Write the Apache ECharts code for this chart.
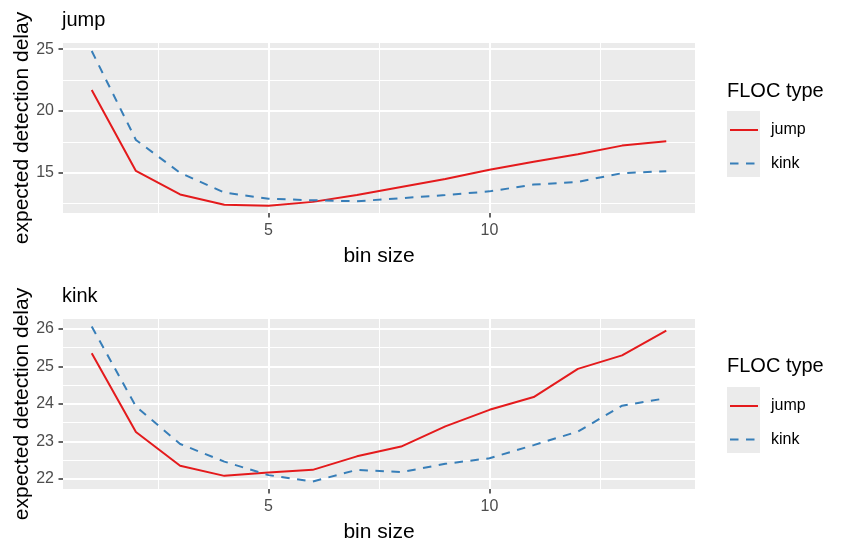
<!DOCTYPE html>
<html>
<head>
<meta charset="utf-8">
<script src="https://cdn.jsdelivr.net/npm/echarts@6/dist/echarts.min.js"></script>
<style>
  html, body { margin: 0; padding: 0; background: #fff; }
  #chart { width: 847px; height: 551px; }
</style>
</head>
<body>
<div id="chart"></div>
<script>
// data
let binSize = [1, 2, 3, 4, 5, 6, 7, 8, 9, 10, 11, 12, 13, 14];
// panel "jump"
let jumpPanelJump = [21.7, 15.15, 13.25, 12.42, 12.34, 12.65, 13.2, 13.85, 14.5, 15.25, 15.9, 16.5, 17.2, 17.55];
let jumpPanelKink = [24.85, 17.66, 15.0, 13.4, 12.9, 12.78, 12.7, 12.95, 13.2, 13.5, 14.05, 14.27, 14.97, 15.13];
// panel "kink"
let kinkPanelJump = [25.35, 23.25, 22.35, 22.08, 22.17, 22.24, 22.6, 22.86, 23.4, 23.84, 24.18, 24.93, 25.29, 25.95];
let kinkPanelKink = [26.06, 23.93, 22.93, 22.46, 22.1, 21.93, 22.24, 22.18, 22.4, 22.55, 22.9, 23.26, 23.95, 24.15];

let xTicks = [5, 10];
let xMinor = [2.5, 7.5, 12.5];
let jumpYTicks = [15, 20, 25];
let jumpYMinor = [12.5, 17.5, 22.5];
let kinkYTicks = [22, 23, 24, 25, 26];
let kinkYMinor = [22.5, 23.5, 24.5, 25.5];

let panelTitles = ['jump', 'kink'];
let seriesNames = ['jump', 'kink'];
let yTitle = 'expected detection delay';

const FONT = '"Liberation Sans", Arial, Helvetica, sans-serif';
const RED = '#E41A1C';
const BLUE = '#377EB8';

let chart = echarts.init(document.getElementById('chart'));

let pairs = (arr) => binSize.map((x, i) => [x, arr[i]]);

// white grid lines as mark lines on a hidden series, kept under the data
let gridSeries = function (idx, yMajor, yMinor) {
  let data = [];
  xMinor.forEach(v => data.push({xAxis: v, lineStyle: {width: 1}}));
  xTicks.forEach(v => data.push({xAxis: v, lineStyle: {width: 2}}));
  yMinor.forEach(v => data.push({yAxis: v, lineStyle: {width: 1}}));
  yMajor.forEach(v => data.push({yAxis: v, lineStyle: {width: 2}}));
  return {
    type: 'line',
    xAxisIndex: idx,
    yAxisIndex: idx,
    data: [],
    z: 1,
    silent: true,
    markLine: {
      z: 1,
      silent: true,
      animation: false,
      symbol: ['none', 'none'],
      label: {show: false},
      lineStyle: {color: '#ffffff', type: 'solid'},
      data: data
    }
  };
};

let dataSeries = function (idx, name, values, color, dashed) {
  return {
    name: name,
    type: 'line',
    xAxisIndex: idx,
    yAxisIndex: idx,
    data: pairs(values),
    symbol: 'none',
    z: 10,
    lineStyle: {color: color, width: 2, type: dashed ? [8.5, 7.5] : 'solid'},
    itemStyle: {color: color}
  };
};

let xAxis = function (idx) {
  return {
    type: 'value',
    gridIndex: idx,
    min: 0.35,
    max: 14.65,
    name: 'bin size',
    nameLocation: 'middle',
    nameGap: 33,
    nameTextStyle: {color: '#000', fontSize: 21, fontFamily: FONT},
    axisLine: {show: false},
    axisTick: {show: true, customValues: xTicks, length: 4.5, lineStyle: {color: '#333', width: 1.5}},
    axisLabel: {customValues: xTicks, color: '#4D4D4D', fontSize: 16, fontFamily: FONT, margin: 10},
    splitLine: {show: false}
  };
};

let yAxis = function (idx, min, max, ticks) {
  return {
    type: 'value',
    gridIndex: idx,
    min: min,
    max: max,
    axisLine: {show: false},
    axisTick: {show: true, customValues: ticks, length: 4.5, lineStyle: {color: '#333', width: 1.5}},
    axisLabel: {customValues: ticks, color: '#4D4D4D', fontSize: 16, fontFamily: FONT, margin: 9},
    splitLine: {show: false}
  };
};

let legend = function (top) {
  return {
    data: seriesNames,
    orient: 'vertical',
    left: 729,
    top: top,
    padding: 0,
    itemWidth: 28,
    itemHeight: 14,
    itemGap: 17.4,
    selectedMode: false,
    itemStyle: {opacity: 0},
    textStyle: {color: '#000', fontSize: 16, fontFamily: FONT, padding: [0, 0, 0, 8]}
  };
};

let textTitle = function (text, left, top) {
  return {
    text: text,
    left: left,
    top: top,
    padding: 0,
    textStyle: {color: '#000', fontSize: 20, fontWeight: 'normal', fontFamily: FONT}
  };
};

let keyBox = (y) => ({
  type: 'rect',
  left: 727,
  top: y,
  shape: {width: 33, height: 33},
  style: {fill: '#EBEBEB'},
  z: -1
});

// rotated y axis title, centred on a panel
let yName = (cy) => ({
  type: 'text',
  x: 22,
  y: cy,
  rotation: Math.PI / 2,
  style: {
    text: yTitle,
    fill: '#000',
    font: '21px ' + FONT,
    textAlign: 'center',
    textVerticalAlign: 'middle'
  }
});

let panel = (top) => ({
  left: 63, top: top, width: 632, height: 170,
  show: true, backgroundColor: '#EBEBEB', borderWidth: 0,
  outerBoundsMode: 'none'
});

let option = {
  backgroundColor: '#ffffff',
  animation: false,
  title: [
    textTitle(panelTitles[0], 62, 10),
    textTitle(panelTitles[1], 62, 286),
    textTitle('FLOC type', 727, 81),
    textTitle('FLOC type', 727, 356)
  ],
  legend: [legend(122), legend(398)],
  graphic: [keyBox(111), keyBox(144), keyBox(387), keyBox(420), yName(128), yName(404)],
  grid: [panel(43), panel(319)],
  xAxis: [xAxis(0), xAxis(1)],
  yAxis: [yAxis(0, 11.75, 25.5, jumpYTicks), yAxis(1, 21.73, 26.26, kinkYTicks)],
  series: [
    gridSeries(0, jumpYTicks, jumpYMinor),
    gridSeries(1, kinkYTicks, kinkYMinor),
    dataSeries(0, seriesNames[0], jumpPanelJump, RED, false),
    dataSeries(0, seriesNames[1], jumpPanelKink, BLUE, true),
    dataSeries(1, seriesNames[0], kinkPanelJump, RED, false),
    dataSeries(1, seriesNames[1], kinkPanelKink, BLUE, true)
  ]
};
chart.setOption(option);
</script>
</body>
</html>
